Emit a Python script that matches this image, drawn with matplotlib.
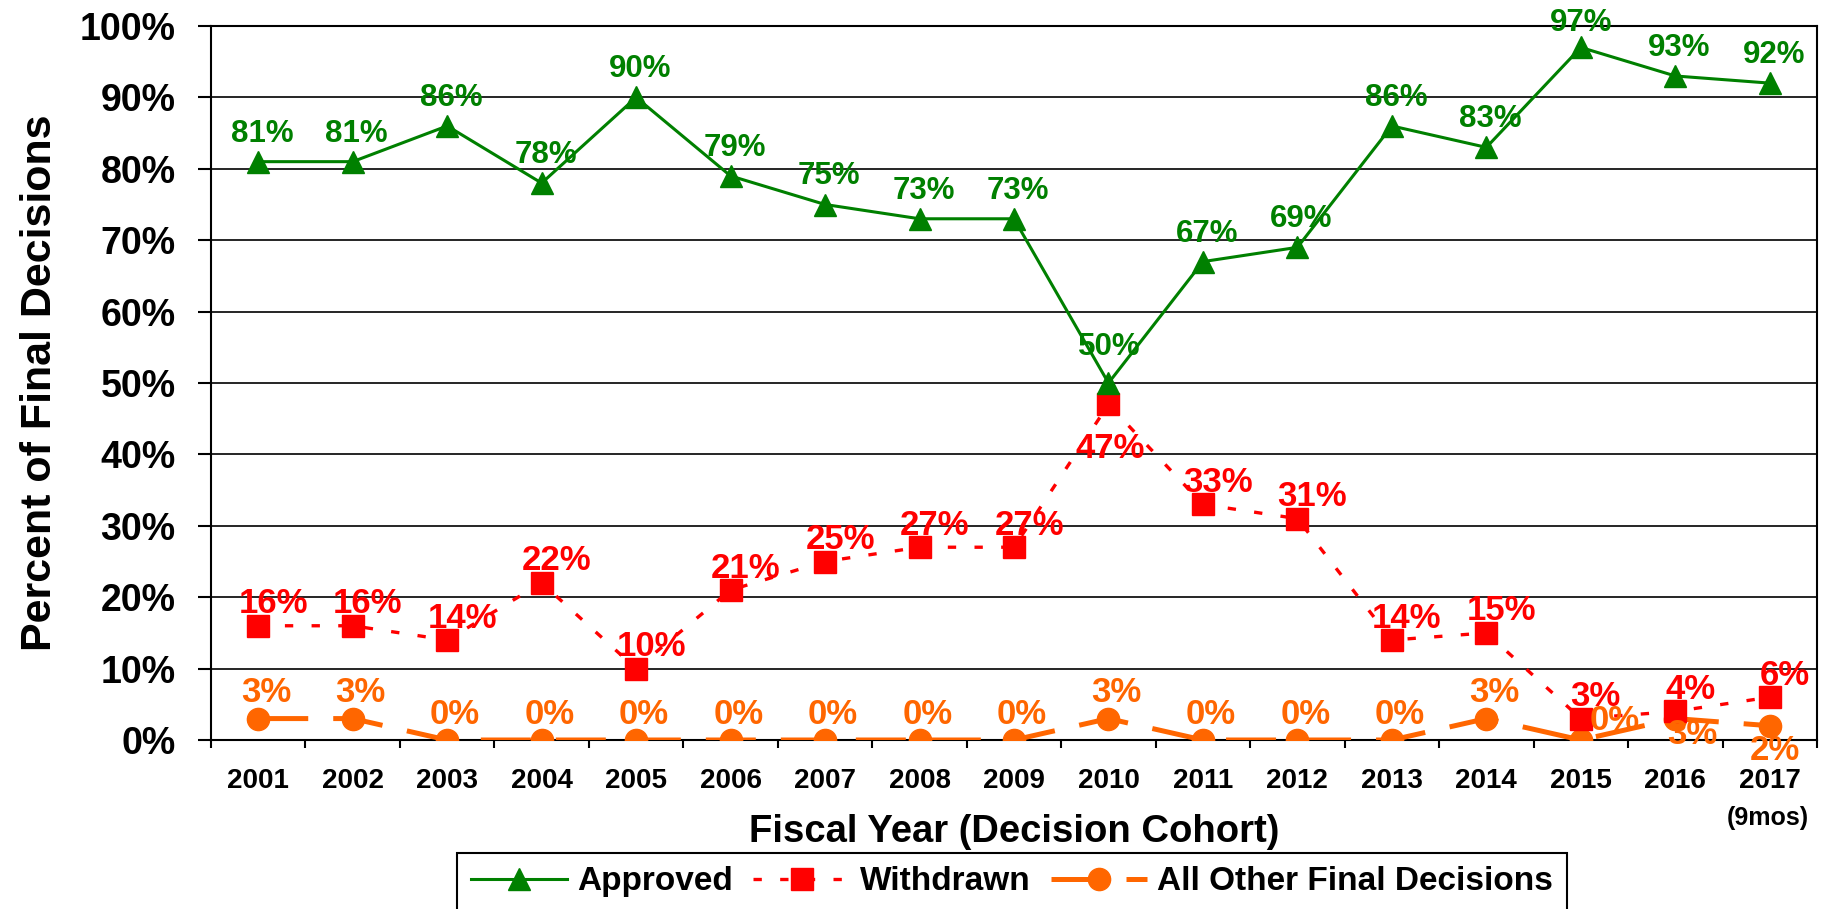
import matplotlib
matplotlib.use("Agg")
import matplotlib.pyplot as plt
from matplotlib.lines import Line2D

plt.rcParams['font.family'] = ['Liberation Sans', 'DejaVu Sans']
plt.rcParams['font.weight'] = 'bold'

years = ['2001', '2002', '2003', '2004', '2005', '2006', '2007', '2008', '2009',
         '2010', '2011', '2012', '2013', '2014', '2015', '2016', '2017']
approved = [81, 81, 86, 78, 90, 79, 75, 73, 73, 50, 67, 69, 86, 83, 97, 93, 92]
withdrawn = [16, 16, 14, 22, 10, 21, 25, 27, 27, 47, 33, 31, 14, 15, 3, 4, 6]
other = [3, 3, 0, 0, 0, 0, 0, 0, 0, 3, 0, 0, 0, 3, 0, 3, 2]
yticks = [0, 10, 20, 30, 40, 50, 60, 70, 80, 90, 100]

GREEN = '#008000'
RED = '#FF0000'
ORANGE = '#FF6600'

W, H = 1832, 909
fig = plt.figure(figsize=(W / 100, H / 100), dpi=100)
ax = fig.add_axes([211 / W, 1 - 740 / H, (1817 - 211) / W, (740 - 26) / H])

x = list(range(len(years)))

ax.plot(x, other, color=ORANGE, lw=3.6, linestyle=(0, (10, 5)),
        marker='o', markersize=16, zorder=3)
ax.plot(x, withdrawn, color=RED, lw=2.4, linestyle=(0, (2.5, 5.5)),
        marker='s', markersize=16, zorder=4)
ax.plot(x, approved, color=GREEN, lw=2.2, linestyle='-',
        marker='^', markersize=16, zorder=5)

px = 72 / 100  # pixels -> points


def lab(xi, yi, dx, dy, color, size):
    ax.annotate(f'{yi}%', (xi, yi), xytext=(dx * px, dy * px),
                textcoords='offset points', ha='center', va='center',
                color=color, fontsize=size, fontweight='bold', zorder=6)


a_off = {9: (1, 36), 14: (0, 24)}
for i, v in enumerate(approved):
    dx, dy = a_off.get(i, (4, 28))
    lab(i, v, dx, dy, GREEN, 22.5)

w_off = {9: (2, -44)}
for i, v in enumerate(withdrawn):
    dx, dy = w_off.get(i, (15, 22))
    lab(i, v, dx, dy, RED, 25)

o_off = {14: (34, 20), 15: (17, -16), 16: (5, -25)}
for i, v in enumerate(other):
    dx, dy = o_off.get(i, (8, 26))
    lab(i, v, dx, dy, ORANGE, 25)

ax.set_xlim(-0.5, len(years) - 0.5)
ax.set_ylim(0, 100)
ax.set_yticks(yticks)
ax.set_yticklabels([f'{t}%' for t in yticks], fontsize=27, fontweight='bold')
ax.set_xticks(x)
ax.set_xticklabels(years, fontsize=20, fontweight='bold')
ax.set_xticks([i - 0.5 for i in range(len(years) + 1)], minor=True)
ax.tick_params(axis='x', which='major', length=0, pad=20)
ax.tick_params(axis='x', which='minor', length=6, width=1.5, direction='out')
ax.tick_params(axis='y', which='major', length=9.5, width=1.5, direction='out', pad=16)
ax.yaxis.grid(True, color='black', lw=1.2)
ax.set_axisbelow(True)
for s in ax.spines.values():
    s.set_linewidth(1.5)
    s.set_color('black')

ax.set_ylabel('Percent of Final Decisions', fontsize=31, fontweight='bold')
ax.yaxis.set_label_coords(-0.094, 0.5)

fig.text(1014 / W, 1 - 832 / H, 'Fiscal Year (Decision Cohort)', ha='center',
         va='center', fontsize=27.5, fontweight='bold')
fig.text(1768 / W, 1 - 818 / H, '(9mos)', ha='center', va='center',
         fontsize=18, fontweight='bold')

handles = [
    Line2D([], [], color=GREEN, lw=2.2, marker='^', markersize=16),
    Line2D([], [], color=RED, lw=2.4, linestyle=(0, (2.5, 5.5)), marker='s', markersize=16),
    Line2D([], [], color=ORANGE, lw=3.6, linestyle=(0, (10, 5)), marker='o', markersize=16),
]
leg = fig.legend(handles, ['Approved', 'Withdrawn', 'All Other Final Decisions'],
                 loc='upper center', bbox_to_anchor=(1012 / W, 1 - 853 / H),
                 ncol=3, fontsize=24, frameon=True, fancybox=False,
                 edgecolor='black', framealpha=1, handlelength=2.9,
                 handletextpad=0.3, columnspacing=0.6, borderpad=0.4,
                 borderaxespad=0)
leg.get_frame().set_linewidth(1.5)
for t in leg.get_texts():
    t.set_fontweight('bold')

fig.savefig('out.png', dpi=100)
